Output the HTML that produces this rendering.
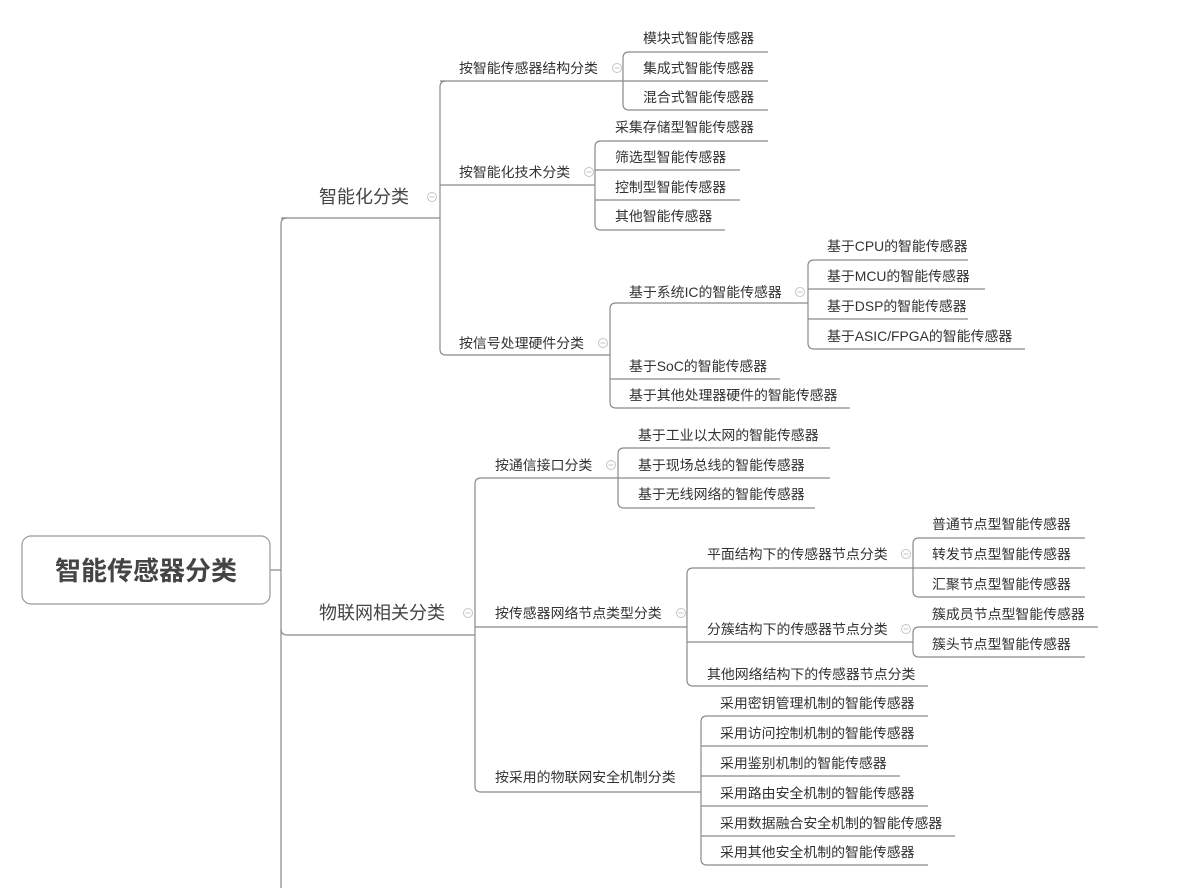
<!DOCTYPE html>
<html><head><meta charset="utf-8"><style>
html,body{margin:0;padding:0;background:#fff;}
svg{display:block;}
text{font-family:"Liberation Sans","Noto Sans CJK SC",sans-serif;fill:#333;font-size:13.9px;dominant-baseline:central;}
.l1{font-size:18px;fill:#444;}
.ln{stroke:#8a8a8a;stroke-width:1.2;fill:none;}
.ic{stroke:#c4c4c4;stroke-width:1;fill:#fff;}
</style></head><body>
<svg width="1181" height="888" viewBox="0 0 1181 888" xmlns="http://www.w3.org/2000/svg">
<defs><g id="m"><circle class="ic" cx="0" cy="0" r="4.5"/><path d="M-2.5,0 H2.5" stroke="#c4c4c4" stroke-width="1"/></g></defs>
<rect x="22" y="536" width="248" height="68" rx="9" fill="#fff" stroke="#999" stroke-width="1.2"/>
<text x="146" y="571" text-anchor="middle" style="font-size:26px;font-weight:bold;fill:#444">智能传感器分类</text>
<path class="ln" d="M270,570 H281 M287,218 Q281,218 281,224 V888"/>
<text class="l1" x="319" y="197">智能化分类</text>
<path class="ln" d="M281,218 H440"/>
<text class="l1" x="319" y="613">物联网相关分类</text>
<path class="ln" d="M281,629 Q281,635 287,635 H475"/>
<use href="#m" x="432" y="197"/><use href="#m" x="468" y="613"/>

<path class="ln" d="M446,81 Q440,81 440,87 V349 Q440,355 446,355"/>
<text x="459" y="68">按智能传感器结构分类</text>
<path class="ln" d="M440,81 H623"/>
<use href="#m" x="617" y="68"/>
<path class="ln" d="M629,52 Q623,52 623,58 V104 Q623,110 629,110"/>
<text x="643" y="38">模块式智能传感器</text><path class="ln" d="M629,52 H768"/>
<text x="643" y="68">集成式智能传感器</text><path class="ln" d="M623,81 H768"/>
<text x="643" y="97">混合式智能传感器</text><path class="ln" d="M629,110 H768"/>

<text x="459" y="172">按智能化技术分类</text>
<path class="ln" d="M440,185 H595"/>
<use href="#m" x="589" y="172"/>
<path class="ln" d="M601,141 Q595,141 595,147 V224 Q595,230 601,230"/>
<text x="615" y="127">采集存储型智能传感器</text><path class="ln" d="M601,141 H768"/>
<text x="615" y="157">筛选型智能传感器</text><path class="ln" d="M595,170 H740"/>
<text x="615" y="187">控制型智能传感器</text><path class="ln" d="M595,200 H740"/>
<text x="615" y="216">其他智能传感器</text><path class="ln" d="M601,230 H725"/>

<text x="459" y="343">按信号处理硬件分类</text>
<path class="ln" d="M446,355 H610"/>
<use href="#m" x="603" y="343"/>
<path class="ln" d="M616,303 Q610,303 610,309 V402 Q610,408 616,408"/>
<text x="629" y="292">基于系统IC的智能传感器</text><path class="ln" d="M616,303 H808"/>
<use href="#m" x="800" y="292"/>
<path class="ln" d="M814,260 Q808,260 808,266 V343 Q808,349 814,349"/>
<text x="827" y="246">基于CPU的智能传感器</text><path class="ln" d="M814,260 H968"/>
<text x="827" y="276">基于MCU的智能传感器</text><path class="ln" d="M808,289 H985"/>
<text x="827" y="306">基于DSP的智能传感器</text><path class="ln" d="M808,319 H968"/>
<text x="827" y="336">基于ASIC/FPGA的智能传感器</text><path class="ln" d="M814,349 H1025"/>
<text x="629" y="366">基于SoC的智能传感器</text><path class="ln" d="M610,379 H780"/>
<text x="629" y="395">基于其他处理器硬件的智能传感器</text><path class="ln" d="M616,408 H850"/>

<path class="ln" d="M481,478 Q475,478 475,484 V786 Q475,792 481,792"/>
<text x="495" y="465">按通信接口分类</text>
<path class="ln" d="M481,478 H618"/>
<use href="#m" x="611" y="465"/>
<path class="ln" d="M624,448 Q618,448 618,454 V502 Q618,508 624,508"/>
<text x="638" y="435">基于工业以太网的智能传感器</text><path class="ln" d="M624,448 H830"/>
<text x="638" y="465">基于现场总线的智能传感器</text><path class="ln" d="M618,478 H830"/>
<text x="638" y="494">基于无线网络的智能传感器</text><path class="ln" d="M624,508 H815"/>

<text x="495" y="613">按传感器网络节点类型分类</text>
<path class="ln" d="M475,627 H687"/>
<use href="#m" x="681" y="613"/>
<path class="ln" d="M693,568 Q687,568 687,574 V680 Q687,686 693,686"/>
<text x="707" y="554">平面结构下的传感器节点分类</text><path class="ln" d="M693,568 H913"/>
<use href="#m" x="906" y="554"/>
<path class="ln" d="M919,538 Q913,538 913,544 V591 Q913,597 919,597"/>
<text x="932" y="524">普通节点型智能传感器</text><path class="ln" d="M919,538 H1085"/>
<text x="932" y="554">转发节点型智能传感器</text><path class="ln" d="M913,568 H1085"/>
<text x="932" y="584">汇聚节点型智能传感器</text><path class="ln" d="M919,597 H1085"/>
<text x="707" y="629">分簇结构下的传感器节点分类</text><path class="ln" d="M687,642 H913"/>
<use href="#m" x="906" y="629"/>
<path class="ln" d="M919,627 Q913,627 913,633 V651 Q913,657 919,657"/>
<text x="932" y="614">簇成员节点型智能传感器</text><path class="ln" d="M919,627 H1098"/>
<text x="932" y="644">簇头节点型智能传感器</text><path class="ln" d="M919,657 H1085"/>
<text x="707" y="674">其他网络结构下的传感器节点分类</text><path class="ln" d="M693,686 H928"/>

<text x="495" y="777">按采用的物联网安全机制分类</text>
<path class="ln" d="M481,792 H701"/>
<path class="ln" d="M707,716 Q701,716 701,722 V859 Q701,865 707,865"/>
<text x="720" y="703">采用密钥管理机制的智能传感器</text><path class="ln" d="M707,716 H928"/>
<text x="720" y="733">采用访问控制机制的智能传感器</text><path class="ln" d="M701,746 H928"/>
<text x="720" y="763">采用鉴别机制的智能传感器</text><path class="ln" d="M701,776 H900"/>
<text x="720" y="793">采用路由安全机制的智能传感器</text><path class="ln" d="M701,806 H928"/>
<text x="720" y="823">采用数据融合安全机制的智能传感器</text><path class="ln" d="M701,836 H955"/>
<text x="720" y="852">采用其他安全机制的智能传感器</text><path class="ln" d="M707,865 H928"/>
</svg>
</body></html>
